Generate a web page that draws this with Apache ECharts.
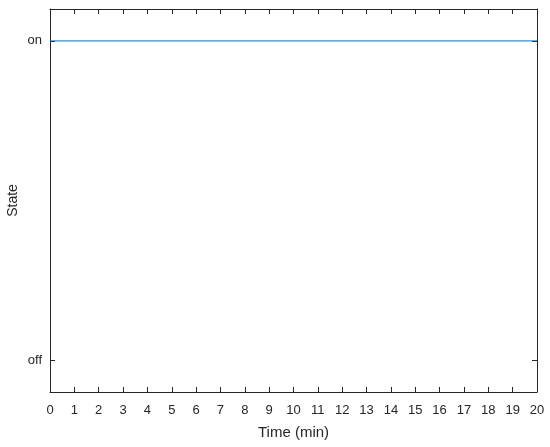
<!DOCTYPE html>
<html>
<head>
<meta charset="utf-8">
<script src="https://cdn.jsdelivr.net/npm/echarts@6/dist/echarts.min.js"></script>
<style>html,body{margin:0;padding:0;background:#fff;}#c{width:550px;height:447px;}</style>
</head>
<body>
<div id="c"></div>
<script>
const timeMin = [0, 20];
const stateValues = [1, 1];
const yTickValues = [0, 1];
const yTickLabels = ['off', 'on'];
const xTickLabels = ['0','1','2','3','4','5','6','7','8','9','10','11','12','13','14','15','16','17','18','19','20'];

const axisColor = '#262626';
const font = 'Liberation Sans, Arial, Helvetica, sans-serif';
const chart = echarts.init(document.getElementById('c'), null, {renderer: 'canvas'});
const lineStyle = {color: axisColor, width: 1};
chart.setOption({
  animation: false,
  backgroundColor: '#fff',
  grid: {left: 50, right: 13, top: 9, bottom: 55, containLabel: false, outerBoundsMode: 'none'},
  xAxis: [{
    type: 'value', min: 0, max: 20, interval: 1, position: 'bottom',
    name: 'Time (min)', nameLocation: 'middle', nameGap: 33, nameMoveOverlap: false,
    nameTextStyle: {color: axisColor, fontFamily: font, fontSize: 15},
    axisLine: {show: true, onZero: false, lineStyle: lineStyle},
    axisTick: {show: true, inside: true, length: 5, lineStyle: lineStyle},
    axisLabel: {color: axisColor, fontFamily: font, fontSize: 13, margin: 12,
      formatter: v => xTickLabels[Math.round(v)] ?? ''},
    splitLine: {show: false}
  }, {
    type: 'value', min: 0, max: 20, interval: 1, position: 'top',
    axisLine: {show: true, onZero: false, lineStyle: lineStyle},
    axisTick: {show: true, inside: true, length: 5, lineStyle: lineStyle},
    axisLabel: {show: false}, splitLine: {show: false}
  }],
  yAxis: [{
    type: 'value', min: -0.1, max: 1.1, position: 'left',
    name: 'State', nameLocation: 'middle', nameGap: 30, nameMoveOverlap: false,
    nameTextStyle: {color: axisColor, fontFamily: font, fontSize: 14},
    axisLine: {show: true, onZero: false, lineStyle: lineStyle},
    axisTick: {show: true, inside: true, length: 5, lineStyle: lineStyle, customValues: yTickValues},
    axisLabel: {color: axisColor, fontFamily: font, fontSize: 13, margin: 8,
      customValues: yTickValues,
      formatter: v => yTickLabels[yTickValues.indexOf(Math.round(v))] ?? ''},
    splitLine: {show: false}
  }, {
    type: 'value', min: -0.1, max: 1.1, position: 'right',
    axisLine: {show: true, onZero: false, lineStyle: lineStyle},
    axisTick: {show: true, inside: true, length: 5, lineStyle: lineStyle, customValues: yTickValues},
    axisLabel: {show: false}, splitLine: {show: false}
  }],
  series: [{
    type: 'line',
    xAxisIndex: 0, yAxisIndex: 0,
    data: timeMin.map((t, i) => [t, stateValues[i]]),
    showSymbol: false, symbol: 'none',
    lineStyle: {color: '#0072BD', width: 1},
    itemStyle: {color: '#0072BD'}
  }]
});
</script>
</body>
</html>
